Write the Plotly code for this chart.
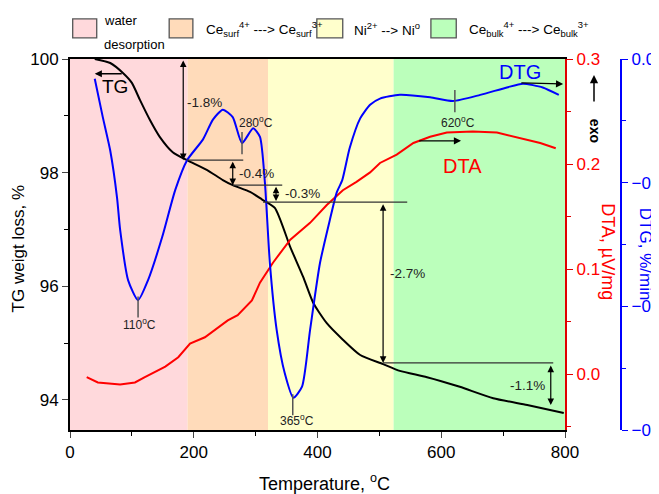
import plotly.graph_objects as go

# ---------------- data ----------------
tg_T = [40, 65, 86, 100, 113, 129, 145, 166, 189, 221, 247, 263, 291, 310, 331, 356, 377, 393, 415, 441, 469, 506, 533, 577, 630, 684, 739, 798]
tg = [100.0, 99.93, 99.75, 99.58, 99.28, 98.93, 98.63, 98.36, 98.22, 98.05, 97.87, 97.78, 97.66, 97.53, 97.38, 96.69, 96.16, 95.71, 95.35, 95.06, 94.79, 94.63, 94.51, 94.40, 94.23, 94.03, 93.91, 93.77]

dtg_T = [40, 53, 65, 76, 81, 94, 110, 126, 149, 170, 189, 215, 231, 247, 263, 278, 296, 307, 315, 323, 334, 347, 361, 375, 388, 404, 420, 431, 440, 452, 469, 485, 501, 533, 582, 619, 663, 706, 732, 764, 790]
dtg = [-0.016, -0.047, -0.074, -0.112, -0.138, -0.179, -0.195, -0.179, -0.144, -0.106, -0.082, -0.065, -0.049, -0.041, -0.047, -0.068, -0.056, -0.063, -0.100, -0.165, -0.219, -0.254, -0.274, -0.265, -0.219, -0.165, -0.130, -0.108, -0.098, -0.072, -0.048, -0.037, -0.032, -0.029, -0.031, -0.034, -0.029, -0.023, -0.020, -0.023, -0.029]

dta_T = [27, 45, 81, 105, 121, 154, 175, 194, 218, 255, 271, 294, 307, 328, 356, 388, 415, 441, 463, 485, 501, 528, 555, 582, 609, 651, 690, 727, 760, 785]
dta = [-0.003, -0.008, -0.010, -0.008, -0.003, 0.007, 0.016, 0.029, 0.035, 0.051, 0.056, 0.070, 0.087, 0.106, 0.128, 0.144, 0.161, 0.175, 0.183, 0.192, 0.201, 0.209, 0.220, 0.226, 0.230, 0.231, 0.230, 0.225, 0.220, 0.215]

region_edges = [0, 190, 320, 523, 800]
region_colors = ["#FFD9DC", "#FFDBBA", "#FFFFCC", "#BBFFBB"]
region_labels = ["water<br>desorption",
                 "Ce<sub>surf</sub><sup>4+</sup> ---> Ce<sub>surf</sub><sup>3+</sup>",
                 "Ni<sup>2+</sup> --> Ni<sup>o</sup>",
                 "Ce<sub>bulk</sub><sup>4+</sup> ---> Ce<sub>bulk</sub><sup>3+</sup>"]

peak_T = [110, 278, 360, 622]
peak_dtg = [-0.195, -0.068, -0.274, -0.034]
peak_labels = ["110<sup>o</sup>C", "280<sup>o</sup>C", "365<sup>o</sup>C", "620<sup>o</sup>C"]

# mass-loss steps: temperature of arrow, start level, end level, label
step_T = [183, 263, 333, 506, 777]
step_from = [100.0, 98.22, 97.78, 97.47, 94.63]
step_to = [98.22, 97.78, 97.50, 94.65, 93.91]
step_labels = ["-1.8%", "-0.4%", "-0.3%", "-2.7%", "-1.1%"]
step_label_T = [218, 302, 375, 546, 739]
step_label_y = [99.24, 97.98, 97.64, 96.22, 94.25]
hline_x0 = [189, 263, 312, 506]
hline_x1 = [280, 343, 545, 781]
hline_y = [98.22, 97.78, 97.48, 94.65]

FONT = "Liberation Sans, Arial, sans-serif"

fig = go.Figure()
fig.add_trace(go.Scatter(x=tg_T, y=tg, mode="lines", line=dict(color="black", width=2, shape="spline", smoothing=0.6), yaxis="y", showlegend=False))
fig.add_trace(go.Scatter(x=dta_T, y=dta, mode="lines", line=dict(color="#FF0000", width=2), yaxis="y2", showlegend=False))
fig.add_trace(go.Scatter(x=dtg_T, y=dtg, mode="lines", line=dict(color="#0000FF", width=2, shape="spline", smoothing=0.6), yaxis="y3", showlegend=False))

shapes = []
for i in range(4):
    shapes.append(dict(type="rect", xref="x", yref="paper", x0=region_edges[i], x1=region_edges[i + 1], y0=0, y1=1,
                       fillcolor=region_colors[i], line=dict(width=0), layer="below"))

annotations = []
# legend boxes
box_x0 = [0.0049, 0.180, 0.448, 0.655]
box_x1 = [0.0485, 0.223, 0.495, 0.701]
text_x = [0.058, 0.243, 0.512, 0.720]
for i in range(4):
    shapes.append(dict(type="rect", xref="paper", yref="paper", x0=box_x0[i], x1=box_x1[i], y0=1.057, y1=1.108,
                       fillcolor=region_colors[i], line=dict(color="#555555", width=1.3)))
annotations.append(dict(xref="paper", yref="paper", x=text_x[0], y=1.104, text="water", showarrow=False,
                        xanchor="left", yanchor="middle", font=dict(size=13, color="black")))
annotations.append(dict(xref="paper", yref="paper", x=text_x[0], y=1.038, text="desorption", showarrow=False,
                        xanchor="left", yanchor="middle", font=dict(size=13, color="black")))
for i in range(1, 4):
    annotations.append(dict(xref="paper", yref="paper", x=text_x[i], y=1.080, text=region_labels[i], showarrow=False,
                            xanchor="left", yanchor="middle", font=dict(size=13.5, color="black")))

# peak markers
for i in range(4):
    if i == 1 or i == 3:
        y0, y1 = peak_dtg[i] + 0.009, peak_dtg[i] - 0.009
    else:
        y0, y1 = peak_dtg[i] + 0.003, peak_dtg[i] - 0.014
    shapes.append(dict(type="line", xref="x", yref="y3", x0=peak_T[i], x1=peak_T[i], y0=y0, y1=y1,
                       line=dict(color="#555555", width=1.5)))
peak_lab_T = [113, 300, 367, 627]
peak_lab_y = [-0.214, -0.051, -0.292, -0.051]
for i in range(4):
    annotations.append(dict(xref="x", yref="y3", x=peak_lab_T[i], y=peak_lab_y[i], text=peak_labels[i], showarrow=False,
                            font=dict(size=12, color="#222222")))

# horizontal reference lines
for i in range(4):
    shapes.append(dict(type="line", xref="x", yref="y", x0=hline_x0[i], x1=hline_x1[i], y0=hline_y[i], y1=hline_y[i],
                       line=dict(color="#333333", width=1.3)))

# double arrows for mass-loss steps
for i in range(5):
    annotations.append(dict(xref="x", yref="y", axref="x", ayref="y", x=step_T[i], y=step_to[i], ax=step_T[i], ay=step_from[i],
                            text="", showarrow=True, arrowhead=2, arrowside="end+start", arrowsize=1.1, arrowwidth=1.2,
                            arrowcolor="black"))
    annotations.append(dict(xref="x", yref="y", x=step_label_T[i], y=step_label_y[i], text=step_labels[i], showarrow=False,
                            font=dict(size=13.5, color="#222222")))

# curve labels with arrows
annotations.append(dict(xref="x", yref="y", axref="x", ayref="y", x=40, y=99.74, ax=86, ay=99.74, text="",
                        showarrow=True, arrowhead=2, arrowsize=1.1, arrowwidth=1.3, arrowcolor="black"))
annotations.append(dict(xref="x", yref="y", x=73, y=99.52, text="TG", showarrow=False, font=dict(size=19, color="black")))
annotations.append(dict(xref="x", yref="y", axref="x", ayref="y", x=797, y=99.56, ax=727, ay=99.58, text="",
                        showarrow=True, arrowhead=2, arrowsize=1.1, arrowwidth=1.3, arrowcolor="black"))
annotations.append(dict(xref="x", yref="y", x=727, y=99.77, text="DTG", showarrow=False, font=dict(size=20, color="#0000FF")))
annotations.append(dict(xref="x", yref="y", axref="x", ayref="y", x=632, y=98.56, ax=562, ay=98.56, text="",
                        showarrow=True, arrowhead=2, arrowsize=1.1, arrowwidth=1.3, arrowcolor="black"))
annotations.append(dict(xref="x", yref="y", x=634, y=98.12, text="DTA", showarrow=False, font=dict(size=20, color="#FF0000")))

# exo
annotations.append(dict(xref="paper", yref="paper", x=0.951, y=0.957, ax=0, ay=28, text="", showarrow=True,
                        arrowhead=2, arrowsize=1.1, arrowwidth=1.5, arrowcolor="black"))
annotations.append(dict(xref="paper", yref="paper", x=0.953, y=0.806, text="<b>exo</b>", textangle=90, showarrow=False,
                        xanchor="center", yanchor="middle", font=dict(size=14, color="black")))

# axis titles
annotations.append(dict(xref="paper", yref="paper", x=0.461, y=-0.142, text="Temperature, <sup>o</sup>C", showarrow=False,
                        xanchor="center", yanchor="middle", font=dict(size=18, color="black")))
annotations.append(dict(xref="paper", yref="paper", x=-0.094, y=0.49, text="TG weigt loss, %", textangle=-90, showarrow=False,
                        xanchor="center", yanchor="middle", font=dict(size=17, color="black")))
annotations.append(dict(xref="paper", yref="paper", x=0.976, y=0.48, text="DTA, \u00b5V/mg", textangle=90, showarrow=False,
                        xanchor="center", yanchor="middle", font=dict(size=18, color="#FF0000")))
annotations.append(dict(xref="paper", yref="paper", x=1.046, y=0.474, text="DTG, %/min", textangle=90, showarrow=False,
                        xanchor="center", yanchor="middle", font=dict(size=17, color="#0000FF")))

D = 495 / 551
fig.update_layout(
    width=651, height=486,
    margin=dict(l=62, r=38, t=51, b=64, pad=0, autoexpand=False),
    plot_bgcolor="white", paper_bgcolor="white",
    font=dict(family=FONT, size=17, color="black"),
    showlegend=False,
    shapes=shapes,
    annotations=annotations,
    xaxis=dict(domain=[0, D], range=[0, 800], tickvals=[0, 200, 400, 600, 800], ticks="outside", ticklen=6, tickwidth=1.3,
               showline=True, linecolor="black", linewidth=1.8, mirror=True, showgrid=False, zeroline=False, automargin=False,
               minor=dict(tickvals=[100, 300, 500, 700], ticks="outside", ticklen=4, tickwidth=1.2, tickcolor="black"),
               tickfont=dict(size=17)),
    yaxis=dict(range=[93.47, 100], tickvals=[94, 96, 98, 100], ticks="outside", ticklen=6, tickwidth=1.3,
               showline=True, linecolor="black", linewidth=1.8, showgrid=False, zeroline=False, automargin=False,
               minor=dict(tickvals=[95, 97, 99], ticks="outside", ticklen=4, tickwidth=1.2, tickcolor="black"),
               tickfont=dict(size=17)),
    yaxis2=dict(overlaying="y", side="right", anchor="x", range=[-0.0533, 0.3], tickvals=[0, 0.1, 0.2, 0.3], tickformat=".1f",
                ticks="outside", ticklen=6, tickwidth=1.3, tickcolor="#E00000", automargin=False,
                showline=True, linecolor="#E00000", linewidth=2.2, showgrid=False, zeroline=False,
                minor=dict(tickvals=[-0.05, 0.05, 0.15, 0.25], ticks="outside", ticklen=4, tickwidth=1.2, tickcolor="#E00000"),
                tickfont=dict(size=17, color="#FF0000")),
    yaxis3=dict(overlaying="y", side="right", anchor="free", position=1.0, range=[-0.3, 0.0], tickvals=[0, -0.1, -0.2, -0.3],
                tickformat=".1f", ticks="outside", ticklen=6, tickwidth=1.3, tickcolor="#0000FF", automargin=False,
                ticklabeloverflow="allow",
                showline=True, linecolor="#0000FF", linewidth=2.2, showgrid=False, zeroline=False,
                minor=dict(tickvals=[-0.05, -0.15, -0.25], ticks="outside", ticklen=4, tickwidth=1.2, tickcolor="#0000FF"),
                tickfont=dict(size=17, color="#0000FF")),
)

fig.write_html("out.html")
